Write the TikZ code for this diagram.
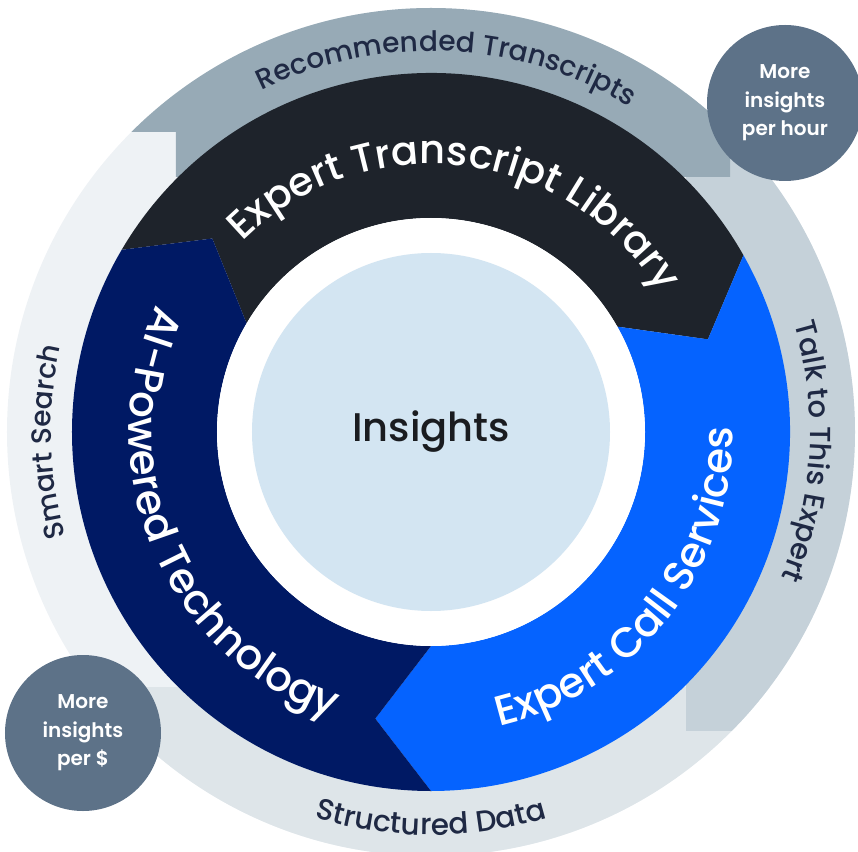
\documentclass[tikz,border=0pt]{standalone}
\usepackage{fontspec}
\setmainfont{Poppins}
\newfontfamily\popmed{Poppins Medium}
\newfontfamily\popsemi{Poppins SemiBold}
\usetikzlibrary{decorations.text}
\definecolor{cPale}{HTML}{EEF2F5}
\definecolor{cTop}{HTML}{97AAB6}
\definecolor{cRight}{HTML}{C5D1D9}
\definecolor{cBottom}{HTML}{DEE5E9}
\definecolor{cCircle}{HTML}{5D7288}
\definecolor{cDark}{HTML}{1E232B}
\definecolor{cNavy}{HTML}{001964}
\definecolor{cBlue}{HTML}{0563FF}
\definecolor{cInner}{HTML}{D3E5F2}
\definecolor{cText}{HTML}{1F2944}
\definecolor{cIns}{HTML}{1A1C20}
\tikzset{
  badge/.style={circle, fill=cCircle, minimum size=156pt, inner sep=0pt, text=white, align=center,
    font=\popsemi\fontsize{20}{28.5}\selectfont},
  outertext/.style 2 args={decorate, decoration={text along path, text align=center, text color=cText,
    text={|\popmed\fontsize{#2}{#2}\selectfont|#1}}},
  ringtext/.style 2 args={decorate, decoration={text along path, text align=center, text color=white,
    text={|\popmed\fontsize{#2}{#2}\selectfont|#1}}}
}
\begin{document}
\begin{tikzpicture}[x=1pt,y=1pt]
\useasboundingbox (-431,-419) rectangle (427,432);
% outer band
\begin{scope}
  \clip (0,0) circle[radius=424pt];
  \fill[cPale] (-500,-500) rectangle (500,500);
  \fill[cBottom] (-299,-500) rectangle (500,-255);
  \fill[cRight] (255,-299) rectangle (500,500);
  \fill[cTop] (-500,500) -- (299,500) -- (299,255) -- (-255,255) -- (-255,300) -- (-500,300) -- cycle;
\end{scope}
% coloured ring
\fill[cDark] (149.5:359pt) arc[start angle=149.5,end angle=29.5,radius=359pt] -- (18.5:292pt) -- (29.5:214pt) arc[start angle=29.5,end angle=149.5,radius=214pt] -- (138.5:292pt) -- cycle;
\fill[cBlue] (29.5:359pt) arc[start angle=29.5,end angle=-90,radius=359pt] -- (-101:292pt) -- (-90:214pt) arc[start angle=-90,end angle=29.5,radius=214pt] -- (18.5:292pt) -- cycle;
\fill[cNavy] (270:359pt) arc[start angle=270,end angle=149.5,radius=359pt] -- (138.5:292pt) -- (149.5:214pt) arc[start angle=149.5,end angle=270,radius=214pt] -- (259:292pt) -- cycle;
% centre
\fill[white] (0,0) circle[radius=214pt];
\fill[cInner] (0,0) circle[radius=179pt];
\node[text=cIns, font=\popmed\fontsize{40}{40}\selectfont] (ins) at (0,0) {Insights};
% ring texts
\path[ringtext={Expert Transcript Library}{40}] (143:268pt) arc[start angle=143,end angle=23,radius=268pt];
\path[ringtext={AI-Powered Technology}{42}] (133:302pt) arc[start angle=133,end angle=273,radius=302pt];
\path[ringtext={Expert Call Services}{42}] (-108:302pt) arc[start angle=-108,end angle=32,radius=302pt];
% outer texts
\path[outertext={Recommended Transcripts}{28}] (147.5:381pt) arc[start angle=147.5,end angle=27.5,radius=381pt];
\path[outertext={Talk to This Expert}{29}] (57:379pt) arc[start angle=57,end angle=-63,radius=379pt];
\path[outertext={Smart Search}{28}] (241.5:380pt) arc[start angle=241.5,end angle=121.5,radius=380pt];
\path[outertext={Structured Data}{29.5}] (-150:403pt) arc[start angle=-150,end angle=-30,radius=403pt];
% badges
\node[badge] (perhour) at (354,329) {More\\insights\\per hour};
\node[badge] (perdollar) at (-348,-301) {More\\insights\\per \$};
\end{tikzpicture}
\end{document}
